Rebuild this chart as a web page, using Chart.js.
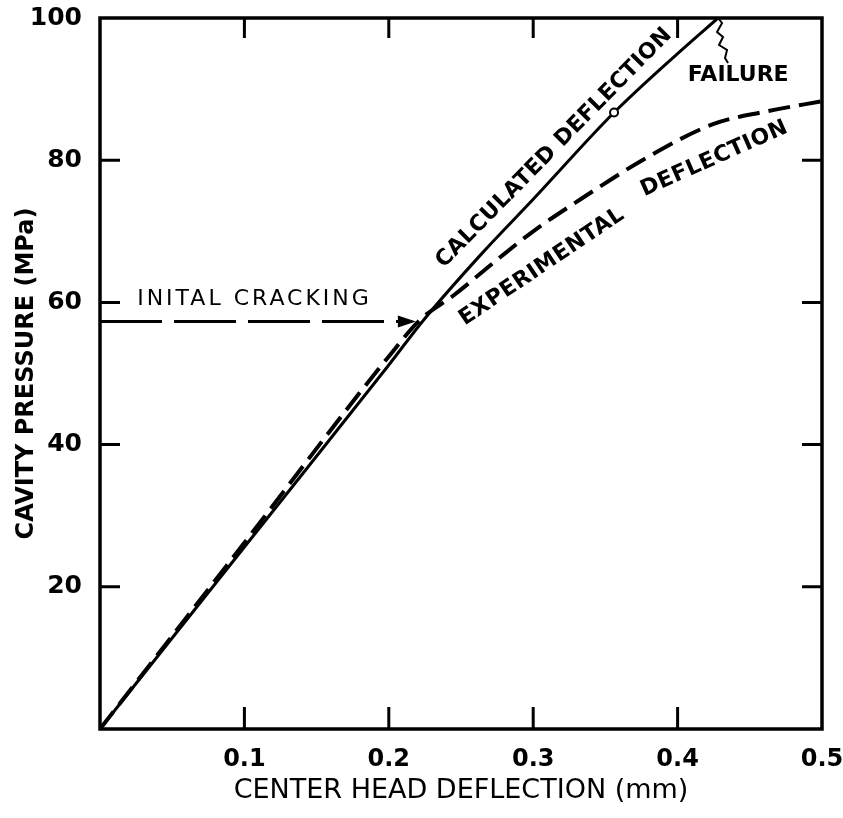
<!DOCTYPE html>
<html>
<head>
<meta charset="utf-8">
<script src="https://cdn.jsdelivr.net/npm/chart.js@4.4.1/dist/chart.umd.min.js"></script>
<style>
  body { margin: 0; background: #fff; }
</style>
</head>
<body>
<canvas id="grafico" width="843" height="818"></canvas>
<script>
// calculated deflection (solid line)
const calcX = [0, 0.1, 0.2, 0.224, 0.265, 0.30, 0.356, 0.40, 0.428];
const calcY = [0, 25.6, 51.2, 57.5, 67.0, 74.5, 86.7, 95.0, 100];
// experimental deflection (dashed line)
const expX = [0, 0.1, 0.2, 0.222, 0.245, 0.275, 0.30, 0.332, 0.379, 0.425, 0.46, 0.5];
const expY = [0, 26.2, 52.4, 57.6, 61.0, 66.0, 70.0, 74.4, 80.4, 85.1, 86.8, 88.3];
// initial cracking arrow
const crackX = [0, 0.216];
const crackY = [57.3, 57.3];
const markIndex = 6; // little circle on calculated curve

const xTickLabels = ['', '0.1', '0.2', '0.3', '0.4', '0.5'];
const yTickLabels = ['', '20', '40', '60', '80', '100'];

const toPoints = (xs, ys) => xs.map((x, i) => ({ x: x, y: ys[i] }));

Chart.defaults.font.family = 'DejaVu Sans';
Chart.defaults.color = '#000';

const decor = {
    id: 'decor',
    afterDatasetsDraw(chart) {
        const ctx = chart.ctx;
        const a = chart.chartArea;
        const xs = chart.scales.x;
        const ys = chart.scales.y;
        ctx.save();
        ctx.strokeStyle = '#000';
        ctx.fillStyle = '#000';
        ctx.lineWidth = 3.5;
        ctx.strokeRect(a.left, a.top, a.right - a.left, a.bottom - a.top);

        // inward ticks on all four sides
        ctx.lineWidth = 3;
        xs.ticks.forEach(t => {
            if (t.value <= 0.001 || t.value >= 0.499) return;
            const px = xs.getPixelForValue(t.value);
            ctx.beginPath();
            ctx.moveTo(px, a.bottom); ctx.lineTo(px, a.bottom - 22);
            ctx.moveTo(px, a.top); ctx.lineTo(px, a.top + 20);
            ctx.stroke();
        });
        ys.ticks.forEach(t => {
            if (t.value <= 0 || t.value >= 100) return;
            const py = ys.getPixelForValue(t.value);
            ctx.beginPath();
            ctx.moveTo(a.left, py); ctx.lineTo(a.left + 20, py);
            ctx.moveTo(a.right, py); ctx.lineTo(a.right - 20, py);
            ctx.stroke();
        });

        // arrow head for initial cracking
        const tipX = xs.getPixelForValue(crackX[1]);
        const tipY = ys.getPixelForValue(crackY[1]);
        ctx.beginPath();
        ctx.moveTo(tipX + 4, tipY);
        ctx.lineTo(tipX - 14, tipY - 6);
        ctx.lineTo(tipX - 14, tipY + 6);
        ctx.closePath();
        ctx.fill();

        // failure squiggle from end of calculated curve
        const fx = xs.getPixelForValue(calcX[calcX.length - 1]);
        const fy = ys.getPixelForValue(calcY[calcY.length - 1]);
        ctx.lineWidth = 2;
        ctx.beginPath();
        ctx.moveTo(fx, fy);
        [[4, 5], [-1, 14], [5, 19], [1, 27], [9, 32], [7, 40], [10, 45]].forEach(p => {
            ctx.lineTo(fx + p[0], fy + p[1]);
        });
        ctx.stroke();

        // annotations
        const label = (text, vx, vy, ang, font, spacing) => {
            ctx.save();
            ctx.translate(xs.getPixelForValue(vx), ys.getPixelForValue(vy));
            ctx.rotate(ang * Math.PI / 180);
            ctx.font = font;
            ctx.letterSpacing = (spacing || 0) + 'px';
            ctx.textAlign = 'center';
            ctx.textBaseline = 'middle';
            ctx.fillText(text, 0, 0);
            ctx.restore();
        };
        label('CALCULATED DEFLECTION', 0.3145, 81.7, -45.5, 'bold 22px "DejaVu Sans"', 0.3);
        label('EXPERIMENTAL', 0.306, 65.0, -34, 'bold 22px "DejaVu Sans"', 0.5);
        label('DEFLECTION', 0.4255, 80.2, -24, 'bold 22px "DejaVu Sans"', 0.5);
        label('FAILURE', 0.442, 92.0, 0, 'bold 22px "DejaVu Sans"');
        label('INITAL CRACKING', 0.107, 60.4, 0, '22px "DejaVu Sans"', 3);
        ctx.restore();
    }
};

new Chart(document.getElementById('grafico'), {
    type: 'scatter',
    data: {
        datasets: [
            {
                label: 'Calculated deflection',
                data: toPoints(calcX, calcY),
                showLine: true,
                borderColor: '#000',
                borderWidth: 3,
                cubicInterpolationMode: 'monotone',
                pointRadius: calcX.map((v, i) => i === markIndex ? 4 : 0),
                pointBackgroundColor: '#fff',
                pointBorderColor: '#000',
                pointBorderWidth: 2
            },
            {
                label: 'Experimental deflection',
                data: toPoints(expX, expY),
                showLine: true,
                borderColor: '#000',
                borderWidth: 4,
                borderDash: [22, 9],
                cubicInterpolationMode: 'monotone',
                pointRadius: 0
            },
            {
                label: 'Initial cracking',
                data: toPoints(crackX, crackY),
                showLine: true,
                borderColor: '#000',
                borderWidth: 3,
                borderDash: [62, 12],
                pointRadius: 0
            }
        ]
    },
    options: {
        responsive: false,
        animation: false,
        layout: { padding: { top: 18, right: 21, left: 0, bottom: 0 } },
        plugins: { legend: { display: false }, tooltip: { enabled: false } },
        scales: {
            x: {
                type: 'linear',
                min: 0,
                max: 0.5,
                grid: { display: false },
                border: { display: false },
                ticks: {
                    stepSize: 0.1,
                    padding: 8,
                    maxRotation: 0,
                    font: { size: 24, weight: 'bold' },
                    callback: (v, i) => xTickLabels[i]
                },
                title: {
                    display: true,
                    text: 'CENTER HEAD DEFLECTION (mm)',
                    font: { size: 27 },
                    padding: { top: 0, bottom: 11 }
                },
                afterFit: s => { s.height = 89; s.paddingLeft = 0; s.paddingRight = 0; }
            },
            y: {
                type: 'linear',
                min: 0,
                max: 100,
                grid: { display: false },
                border: { display: false },
                ticks: {
                    stepSize: 20,
                    padding: 10,
                    font: { size: 25, weight: 'bold' },
                    callback: (v, i) => yTickLabels[i]
                },
                title: {
                    display: true,
                    text: 'CAVITY PRESSURE (MPa)',
                    font: { size: 24, weight: 'bold' },
                    padding: { top: 12, bottom: 0 }
                },
                afterFit: s => { s.width = 100; s.paddingTop = 0; s.paddingBottom = 0; }
            }
        }
    },
    plugins: [decor]
});
</script>
</body>
</html>
